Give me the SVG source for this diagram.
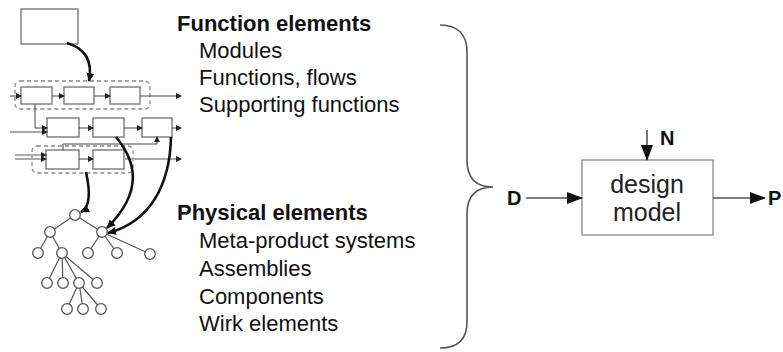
<svg xmlns="http://www.w3.org/2000/svg" width="783" height="352" viewBox="0 0 783 352">
<style>
  .box{fill:#fff;stroke:#7a7a7a;stroke-width:1.4}
  .grp{fill:none;stroke:#888;stroke-width:1.3;stroke-dasharray:4 3}
  .ln{fill:none;stroke:#444;stroke-width:1}
  .gl{fill:none;stroke:#aaa;stroke-width:2}
  .thick{fill:none;stroke:#111;stroke-width:2.6}
  .tn{fill:#fff;stroke:#555;stroke-width:1.3}
  .te{stroke:#555;stroke-width:1.2}
  .h{font-family:"Liberation Sans",Arial,sans-serif;font-weight:bold;font-size:22px;fill:#111}
  .t{font-family:"Liberation Sans",Arial,sans-serif;font-size:22px;fill:#111}
  .lb{font-family:"Liberation Sans",Arial,sans-serif;font-weight:bold;font-size:20px;fill:#111}
  .dm{font-family:"Liberation Sans",Arial,sans-serif;font-size:25px;fill:#222}
  .big{fill:none;stroke:#555;stroke-width:1.6}
</style>
<defs>
  <marker id="sa" markerUnits="userSpaceOnUse" markerWidth="6" markerHeight="6" refX="5" refY="3" orient="auto"><path d="M0,0 L6,3 L0,6 z" fill="#222"/></marker>
  <marker id="ta" markerUnits="userSpaceOnUse" markerWidth="10" markerHeight="10" refX="8" refY="5" orient="auto"><path d="M0,1 L9,5 L0,9 z" fill="#111"/></marker>
  <marker id="ba" markerUnits="userSpaceOnUse" markerWidth="16" markerHeight="12" refX="15" refY="6" orient="auto"><path d="M0,0 L16,6 L0,12 z" fill="#111"/></marker>
</defs>

<!-- function structure nodes -->
<g id="top-box"><rect class="box" x="21" y="9" width="57" height="35"/></g>
<g id="module-1"><rect class="grp" x="15" y="81" width="135" height="28" rx="5"/></g>
<g id="module-2"><rect class="grp" x="32" y="146" width="101" height="27" rx="5"/></g>
<g id="f-a"><rect class="box" x="21" y="87" width="31" height="17"/></g>
<g id="f-b"><rect class="box" x="64" y="87" width="30" height="17"/></g>
<g id="f-c"><rect class="box" x="110" y="87" width="30" height="17"/></g>
<g id="f-d"><rect class="box" x="47" y="118" width="32" height="19"/></g>
<g id="f-e"><rect class="box" x="93" y="118" width="31" height="19"/></g>
<g id="f-f"><rect class="box" x="142" y="118" width="30" height="19"/></g>
<g id="f-g"><rect class="box" x="46" y="150" width="33" height="19"/></g>
<g id="f-h"><rect class="box" x="93" y="150" width="31" height="19"/></g>

<!-- product tree nodes -->
<g id="tree">
  <g class="te">
    <line x1="75" y1="215" x2="50" y2="232"/><line x1="75" y1="215" x2="102" y2="232"/>
    <line x1="50" y1="232" x2="38" y2="253"/><line x1="50" y1="232" x2="62" y2="253"/>
    <line x1="102" y1="232" x2="88" y2="253"/><line x1="102" y1="232" x2="117" y2="253"/><line x1="102" y1="232" x2="150" y2="254"/>
    <line x1="62" y1="253" x2="47" y2="283"/><line x1="62" y1="253" x2="63" y2="283"/><line x1="62" y1="253" x2="79" y2="283"/><line x1="62" y1="253" x2="97" y2="283"/>
    <line x1="79" y1="283" x2="67" y2="309"/><line x1="79" y1="283" x2="83" y2="309"/><line x1="79" y1="283" x2="101" y2="309"/>
  </g>
  <g id="n-root"><circle class="tn" cx="75" cy="215" r="5.3"/></g>
  <g id="n-l"><circle class="tn" cx="50" cy="232" r="5.3"/></g>
  <g id="n-r"><circle class="tn" cx="102" cy="232" r="5.3"/></g>
  <g id="n-ll"><circle class="tn" cx="38" cy="253" r="5.3"/></g>
  <g id="n-lr"><circle class="tn" cx="62" cy="253" r="5.3"/></g>
  <g id="n-r1"><circle class="tn" cx="88" cy="253" r="5.3"/></g>
  <g id="n-r2"><circle class="tn" cx="117" cy="253" r="5.3"/></g>
  <g id="n-r3"><circle class="tn" cx="150" cy="254" r="5.3"/></g>
  <g id="n-c1"><circle class="tn" cx="47" cy="283" r="5.3"/></g>
  <g id="n-c2"><circle class="tn" cx="63" cy="283" r="5.3"/></g>
  <g id="n-c3"><circle class="tn" cx="79" cy="283" r="5.3"/></g>
  <g id="n-c4"><circle class="tn" cx="97" cy="283" r="5.3"/></g>
  <g id="n-w1"><circle class="tn" cx="67" cy="309" r="5.3"/></g>
  <g id="n-w2"><circle class="tn" cx="83" cy="309" r="5.3"/></g>
  <g id="n-w3"><circle class="tn" cx="101" cy="309" r="5.3"/></g>
</g>

<!-- texts -->
<g id="function-elements">
  <text class="h" x="177" y="31">Function elements</text>
  <text class="t" x="199" y="58">Modules</text>
  <text class="t" x="199" y="85">Functions, flows</text>
  <text class="t" x="199" y="112">Supporting functions</text>
</g>
<g id="physical-elements">
  <text class="h" x="177" y="220">Physical elements</text>
  <text class="t" x="199" y="248">Meta-product systems</text>
  <text class="t" x="199" y="276">Assemblies</text>
  <text class="t" x="199" y="304">Components</text>
  <text class="t" x="199" y="331">Wirk elements</text>
</g>
<g id="brace"><path class="big" stroke="#333" stroke-width="2" d="M440,25 C458,25 467,35 467,52 L467,160 C467,178 475,187 493,187 C475,187 467,196 467,214 L467,322 C467,339 458,348 440,348"/></g>
<g id="design-model">
  <rect fill="#fff" stroke="#888" stroke-width="1.3" x="582" y="160" width="131" height="75"/>
  <text class="dm" x="647" y="193" text-anchor="middle">design</text>
  <text class="dm" x="647" y="221" text-anchor="middle">model</text>
</g>
<g id="labels">
  <text class="lb" x="507" y="205">D</text>
  <text class="lb" x="660" y="145" font-size="17">N</text>
  <text class="lb" x="768" y="205">P</text>
</g>

<!-- connectors -->
<g id="connectors">
  <line class="ln" x1="10" y1="96" x2="21" y2="96" marker-end="url(#sa)"/>
  <line class="ln" x1="52" y1="96" x2="64" y2="96" marker-end="url(#sa)"/>
  <line class="ln" x1="94" y1="96" x2="110" y2="96" marker-end="url(#sa)"/>
  <line class="ln" x1="140" y1="96" x2="181" y2="96" marker-end="url(#sa)"/>
  <polyline class="ln" points="35,104 35,128 47,128" marker-end="url(#sa)"/>
  <line class="gl" x1="10" y1="132" x2="47" y2="132" marker-end="url(#sa)"/>
  <line class="ln" x1="79" y1="128" x2="93" y2="128" marker-end="url(#sa)"/>
  <line class="ln" x1="124" y1="128" x2="142" y2="128" marker-end="url(#sa)"/>
  <line class="ln" x1="172" y1="128" x2="181" y2="128" marker-end="url(#sa)"/>
  <line class="gl" x1="15" y1="155" x2="46" y2="155" marker-end="url(#sa)"/>
  <line class="gl" x1="15" y1="159" x2="46" y2="159" marker-end="url(#sa)"/>
  <line class="ln" x1="79" y1="159" x2="93" y2="159" marker-end="url(#sa)"/>
  <line class="gl" x1="124" y1="159" x2="181" y2="159" marker-end="url(#sa)"/>
  <polyline class="ln" points="63,150 63,144 157,144 157,137" marker-end="url(#sa)"/>
  <path class="thick" d="M67,43 C84,48 93,60 89,81" marker-end="url(#ta)"/>
  <path class="thick" d="M86,172 C90,190 91,207 81,212" marker-end="url(#ta)"/>
  <path class="thick" d="M116,137 C135,160 145,190 107,228" marker-end="url(#ta)"/>
  <path class="thick" d="M171,137 C170,185 150,222 108,233" marker-end="url(#ta)"/>
  <line class="big" x1="526" y1="198" x2="582" y2="198" marker-end="url(#ba)"/>
  <line class="big" x1="647" y1="130" x2="647" y2="160" marker-end="url(#ba)"/>
  <line class="big" x1="713" y1="198" x2="765" y2="198" marker-end="url(#ba)"/>
</g>
</svg>
